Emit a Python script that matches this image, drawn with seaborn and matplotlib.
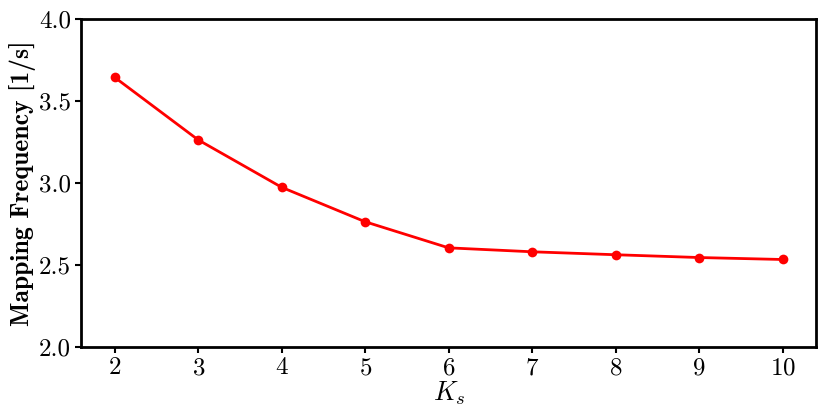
import numpy as np
import matplotlib as mpl
mpl.use('Agg')

import matplotlib.pyplot as plt
import seaborn as sns
import pandas as pd

# data
ks = [2, 3, 4, 5, 6, 7, 8, 9, 10]
freq = [3.643, 3.262, 2.973, 2.763, 2.604, 2.580, 2.562, 2.545, 2.533]

sns.set_style("ticks")
plt.rcParams['font.family'] = 'serif'
plt.rcParams['font.serif'] = ['cmr10']
plt.rcParams['mathtext.fontset'] = 'cm'
plt.rcParams['axes.unicode_minus'] = False
plt.rcParams['axes.formatter.use_mathtext'] = True
# pure black text/spines like the LaTeX original
for k in ['text.color', 'axes.labelcolor', 'xtick.color', 'ytick.color', 'axes.edgecolor']:
    plt.rcParams[k] = 'black'

df = pd.DataFrame({"Ks": ks, "Freq": freq})

fig, ax = plt.subplots(figsize=(8.3, 4.18), dpi=100)
sns.lineplot(data=df, x="Ks", y="Freq", color="red", marker="o",
             markersize=7, markeredgewidth=0, linewidth=2.0, ax=ax)

ax.set_ylim(2.0, 4.0)
ax.set_yticks([2.0, 2.5, 3.0, 3.5, 4.0])
ax.set_yticklabels(["2.0", "2.5", "3.0", "3.5", "4.0"])
ax.set_xticks(ks)
ax.set_xlim(1.6, 10.4)
ax.tick_params(labelsize=18, width=1.5, length=4)
for s in ax.spines.values():
    s.set_linewidth(2)
    s.set_visible(True)

ax.set_xlabel(r"$K_s$", fontsize=19, labelpad=0)
ax.set_ylabel("Mapping Frequency [1/s]", fontsize=18.5, fontname="cmb10", labelpad=2)

plt.subplots_adjust(left=0.098, right=0.983, top=0.955, bottom=0.17)
plt.savefig("out.png", dpi=100)
plt.close()
